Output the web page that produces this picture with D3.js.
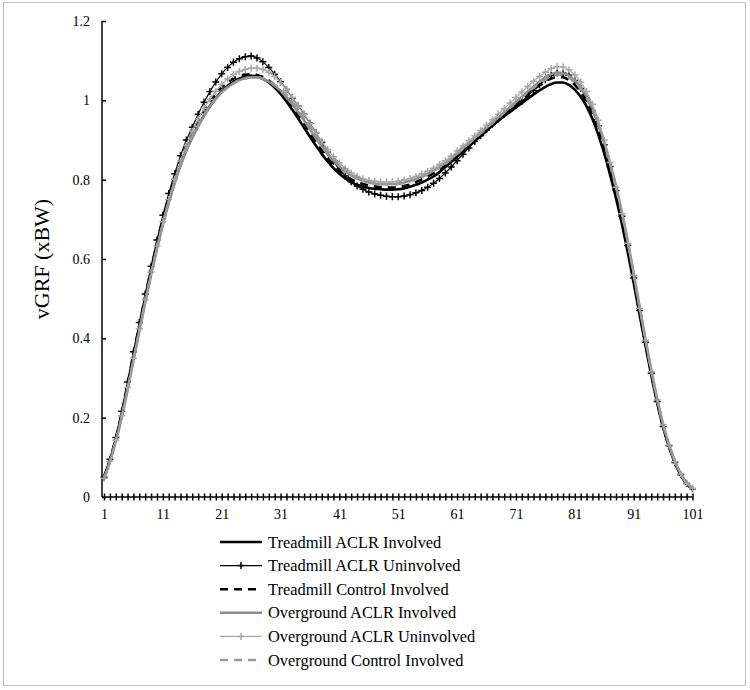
<!DOCTYPE html>
<html>
<head>
<meta charset="utf-8">
<script src="https://cdn.jsdelivr.net/npm/d3@7"></script>
<style>
  body { margin: 0; background: #fff; }
  svg { display: block; }
  text { font-family: "Liberation Serif", "Times New Roman", serif; fill: #000; }
</style>
</head>
<body>
<svg id="chart" width="750" height="690"></svg>
<script>
// ---- Data (percent of stance 1..101, vGRF in body weights) ----
const stance = d3.range(1, 102);
const xTickLabels = [1, 11, 21, 31, 41, 51, 61, 71, 81, 91, 101];
const yTicks = [0, 0.2, 0.4, 0.6, 0.8, 1, 1.2];

const seriesNames = [
  "Treadmill ACLR Involved",
  "Treadmill ACLR Uninvolved",
  "Treadmill Control Involved",
  "Overground ACLR Involved",
  "Overground ACLR Uninvolved",
  "Overground Control Involved"
];

const treadmillAclrInvolved = [
  0.05,0.092,0.145,0.207,0.278,0.352,0.425,0.497,0.566,0.631,
  0.692,0.746,0.795,0.838,0.875,0.907,0.936,0.962,0.985,1.005,
  1.022,1.036,1.047,1.055,1.06,1.062,1.06,1.054,1.045,1.032,
  1.016,0.997,0.976,0.954,0.931,0.908,0.886,0.865,0.846,0.829,
  0.815,0.803,0.794,0.787,0.782,0.779,0.777,0.776,0.775,0.775,
  0.776,0.778,0.782,0.787,0.793,0.8,0.808,0.819,0.832,0.845,
  0.858,0.871,0.884,0.897,0.91,0.923,0.936,0.948,0.96,0.971,
  0.982,0.993,1.004,1.015,1.025,1.034,1.041,1.045,1.045,1.039,
  1.027,1.009,0.985,0.953,0.913,0.866,0.812,0.753,0.688,0.617,
  0.54,0.46,0.382,0.306,0.237,0.176,0.127,0.086,0.055,0.033,0.02
];
const treadmillAclrUninvolved = [
  0.05,0.095,0.15,0.216,0.29,0.366,0.44,0.512,0.582,0.648,
  0.71,0.765,0.815,0.86,0.9,0.932,0.965,0.995,1.022,1.046,
  1.067,1.083,1.096,1.105,1.11,1.112,1.107,1.097,1.083,1.066,
  1.047,1.027,1.006,0.986,0.965,0.942,0.918,0.894,0.869,0.846,
  0.826,0.809,0.795,0.784,0.776,0.769,0.764,0.761,0.758,0.757,
  0.757,0.759,0.762,0.767,0.773,0.781,0.791,0.803,0.817,0.832,
  0.848,0.864,0.88,0.896,0.911,0.926,0.94,0.953,0.965,0.976,
  0.987,0.998,1.011,1.025,1.039,1.052,1.063,1.069,1.069,1.063,
  1.05,1.03,1.005,0.974,0.936,0.888,0.833,0.773,0.708,0.634,
  0.552,0.47,0.39,0.312,0.241,0.178,0.129,0.087,0.056,0.034,0.021
];
const treadmillControlInvolved = [
  0.05,0.094,0.148,0.212,0.285,0.36,0.433,0.505,0.574,0.64,
  0.7,0.754,0.803,0.847,0.885,0.918,0.947,0.973,0.996,1.016,
  1.032,1.045,1.055,1.061,1.065,1.066,1.064,1.059,1.05,1.038,
  1.023,1.005,0.985,0.963,0.94,0.917,0.895,0.874,0.855,0.838,
  0.823,0.811,0.801,0.794,0.789,0.785,0.783,0.781,0.78,0.78,
  0.781,0.784,0.788,0.794,0.801,0.808,0.816,0.826,0.838,0.85,
  0.864,0.877,0.89,0.903,0.916,0.929,0.942,0.955,0.967,0.979,
  0.991,1.003,1.015,1.027,1.038,1.048,1.055,1.059,1.058,1.051,
  1.039,1.021,0.997,0.966,0.927,0.88,0.828,0.77,0.705,0.632,
  0.551,0.469,0.389,0.311,0.24,0.178,0.128,0.087,0.056,0.034,0.021
];
const overgroundAclrInvolved = [
  0.045,0.088,0.14,0.2,0.27,0.343,0.417,0.49,0.56,0.625,
  0.686,0.741,0.791,0.835,0.873,0.906,0.935,0.961,0.984,1.004,
  1.02,1.033,1.043,1.051,1.056,1.058,1.058,1.054,1.047,1.037,
  1.024,1.008,0.99,0.97,0.949,0.927,0.905,0.884,0.865,0.848,
  0.833,0.821,0.811,0.803,0.797,0.793,0.79,0.789,0.789,0.789,
  0.79,0.793,0.797,0.802,0.808,0.815,0.823,0.832,0.842,0.853,
  0.866,0.879,0.892,0.905,0.918,0.931,0.944,0.957,0.97,0.983,
  0.996,1.009,1.022,1.035,1.047,1.058,1.066,1.07,1.069,1.062,
  1.05,1.033,1.01,0.98,0.942,0.895,0.842,0.784,0.718,0.645,
  0.564,0.481,0.399,0.32,0.248,0.184,0.133,0.091,0.059,0.036,0.022
];
const overgroundAclrUninvolved = [
  0.047,0.09,0.143,0.205,0.276,0.35,0.424,0.497,0.567,0.633,
  0.694,0.75,0.801,0.847,0.887,0.922,0.953,0.98,1.003,1.023,
  1.04,1.054,1.065,1.073,1.078,1.081,1.081,1.078,1.071,1.06,
  1.045,1.027,1.007,0.986,0.964,0.941,0.918,0.896,0.876,0.858,
  0.842,0.828,0.817,0.808,0.802,0.798,0.796,0.795,0.795,0.795,
  0.796,0.799,0.803,0.808,0.814,0.821,0.829,0.838,0.848,0.859,
  0.872,0.885,0.898,0.911,0.924,0.937,0.951,0.965,0.979,0.993,
  1.007,1.021,1.035,1.048,1.06,1.071,1.08,1.085,1.084,1.077,
  1.064,1.046,1.022,0.99,0.95,0.9,0.843,0.781,0.714,0.64,
  0.559,0.476,0.395,0.316,0.245,0.182,0.131,0.089,0.058,0.035,0.022
];
const overgroundControlInvolved = [
  0.046,0.089,0.141,0.202,0.272,0.346,0.42,0.493,0.563,0.628,
  0.689,0.744,0.794,0.838,0.876,0.909,0.938,0.963,0.985,1.004,
  1.02,1.033,1.043,1.05,1.055,1.058,1.058,1.055,1.049,1.04,
  1.028,1.013,0.996,0.977,0.956,0.934,0.912,0.891,0.872,0.855,
  0.84,0.827,0.816,0.807,0.8,0.795,0.791,0.789,0.788,0.788,
  0.789,0.792,0.796,0.801,0.807,0.814,0.822,0.831,0.841,0.852,
  0.865,0.878,0.891,0.904,0.917,0.93,0.943,0.956,0.969,0.982,
  0.995,1.008,1.02,1.032,1.043,1.053,1.061,1.065,1.064,1.057,
  1.046,1.029,1.006,0.976,0.939,0.893,0.84,0.782,0.716,0.643,
  0.562,0.479,0.397,0.318,0.246,0.183,0.132,0.09,0.058,0.035,0.022
];

const seriesValues = [
  treadmillAclrInvolved, treadmillAclrUninvolved, treadmillControlInvolved,
  overgroundAclrInvolved, overgroundAclrUninvolved, overgroundControlInvolved
];

// ---- Styles ----
const styles = [
  { color: "#000000", width: 2.6, dash: null, marker: false },
  { color: "#000000", width: 1.2, dash: null, marker: true },
  { color: "#000000", width: 2.6, dash: "8,6", marker: false },
  { color: "#8c8c8c", width: 2.6, dash: null, marker: false },
  { color: "#a8a8a8", width: 1.2, dash: null, marker: true },
  { color: "#999999", width: 2.6, dash: "8,6", marker: false }
];

const svg = d3.select("#chart");

// outer frame
svg.append("rect").attr("x", 3.5).attr("y", 2.5).attr("width", 742).attr("height", 683)
  .attr("fill", "#fff").attr("stroke", "#bdbdbd").attr("stroke-width", 1);

const x = d3.scaleLinear().domain([1, 101]).range([104, 692.5]);
const y = d3.scaleLinear().domain([0, 1.2]).range([497, 21]);
const axisX0 = 102;

// y axis
const yAxis = svg.append("g").attr("transform", `translate(${axisX0},0)`)
  .call(d3.axisLeft(y).tickValues(yTicks).tickSize(-4).tickPadding(12)
    .tickFormat(d => d === 0 ? "0" : d3.format("~g")(d)));
yAxis.select(".domain").attr("d", `M0,${y(0)}V${y(1.2)}`).attr("stroke", "#000").attr("stroke-width", 1.5);
yAxis.selectAll(".tick line").attr("stroke", "#000").attr("stroke-width", 1.5);
yAxis.selectAll(".tick text").style("font-size", "14px").style("font-family", "'Liberation Serif', serif");

// x axis
const xAxis = svg.append("g").attr("transform", `translate(0,${y(0)})`)
  .call(d3.axisBottom(x).tickValues(stance).tickSize(3.5).tickPadding(9)
    .tickFormat(d => xTickLabels.includes(d) ? String(d) : ""));
xAxis.select(".domain").attr("d", `M${axisX0},0H${x(101)}`).attr("stroke", "#000").attr("stroke-width", 1.5);
xAxis.selectAll(".tick line").attr("y1", -3.5).attr("stroke", "#000").attr("stroke-width", 1.5);
xAxis.selectAll(".tick text").style("font-size", "14px").style("font-family", "'Liberation Serif', serif");

// y title
svg.append("text").attr("transform", "translate(49,259) rotate(-90)")
  .attr("text-anchor", "middle").style("font-size", "22px").text("vGRF (xBW)");

// lines
const line = d3.line().x((d, i) => x(stance[i])).y(d => y(d)).curve(d3.curveMonotoneX);

function plus(g, cx, cy, color) {
  g.append("path").attr("d", `M${cx - 3.5},${cy}H${cx + 3.5}M${cx},${cy - 3.5}V${cy + 3.5}`)
    .attr("stroke", color).attr("stroke-width", 1.5).attr("fill", "none");
}

const plot = svg.append("g");
seriesValues.forEach((vals, si) => {
  const st = styles[si];
  const g = plot.append("g");
  g.append("path").datum(vals).attr("d", line).attr("fill", "none")
    .attr("stroke", st.color).attr("stroke-width", st.width)
    .attr("stroke-dasharray", st.dash).attr("stroke-linejoin", "round");
  if (st.marker) {
    vals.forEach((v, i) => plus(g, x(stance[i]), y(v), st.color));
  }
});

// legend
const legend = svg.append("g");
seriesNames.forEach((name, i) => {
  const st = styles[i];
  const cy = 542 + i * 23.6;
  const g = legend.append("g");
  g.append("line").attr("x1", 220).attr("x2", 262).attr("y1", cy).attr("y2", cy)
    .attr("stroke", st.color).attr("stroke-width", st.width).attr("stroke-dasharray", st.dash);
  if (st.marker) plus(g, 241, cy, st.color);
  g.append("text").attr("x", 268).attr("y", cy + 5.5).style("font-size", "16.4px").text(name);
});
</script>
</body>
</html>
